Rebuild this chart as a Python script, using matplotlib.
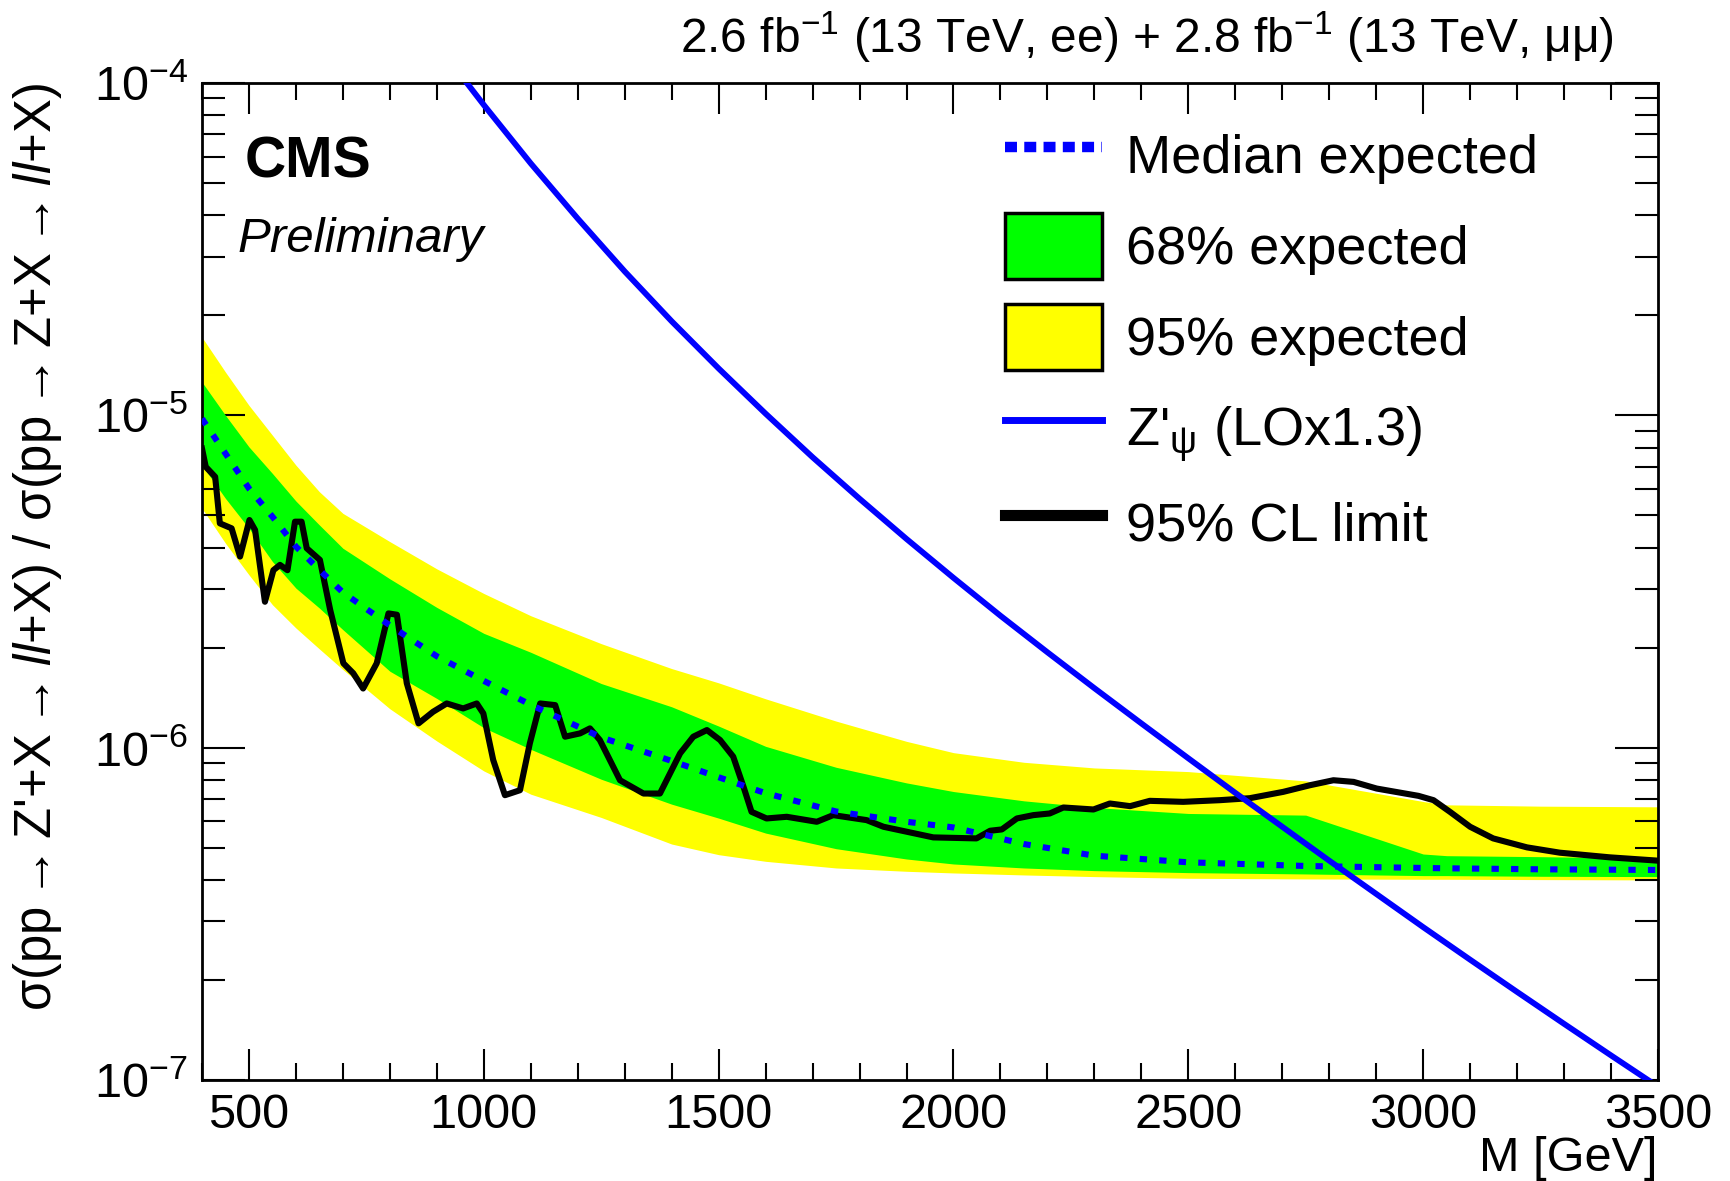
import numpy as np
import matplotlib
matplotlib.use("Agg")
import matplotlib.pyplot as plt
from matplotlib.lines import Line2D
from matplotlib.patches import Patch
from matplotlib.ticker import MultipleLocator, LogLocator, NullFormatter, FixedLocator

plt.rcParams['font.family'] = ['Liberation Sans', 'DejaVu Sans']
plt.rcParams['mathtext.fontset'] = 'custom'
plt.rcParams['mathtext.rm'] = 'Liberation Sans'
plt.rcParams['mathtext.it'] = 'Liberation Sans:italic'
plt.rcParams['mathtext.bf'] = 'Liberation Sans:bold'
plt.rcParams['mathtext.default'] = 'regular'

# ---------------- data (log10 of sigma ratio) ----------------
band_mass = [400, 450, 500, 550, 600, 650, 700, 800, 900, 1000, 1100, 1250, 1400,
             1500, 1600, 1750, 1900, 2000, 2150, 2300, 2500, 2750, 3000, 3050, 3250, 3500]

exp95_hi_log10 = [-4.765, -4.87, -4.97, -5.06, -5.15, -5.23, -5.295, -5.38, -5.462, -5.536,
                  -5.603, -5.687, -5.762, -5.805, -5.853, -5.92, -5.981, -6.015, -6.044,
                  -6.061, -6.072, -6.10, -6.162, -6.172, -6.176, -6.178]
exp68_hi_log10 = [-4.90, -5.00, -5.095, -5.175, -5.258, -5.33, -5.40, -5.492, -5.578, -5.656,
                  -5.713, -5.807, -5.877, -5.935, -5.996, -6.059, -6.106, -6.132, -6.16,
                  -6.18, -6.198, -6.203, -6.32, -6.325, -6.328, -6.333]
median_log10 = [-5.01, -5.115, -5.22, -5.305, -5.395, -5.465, -5.533, -5.632, -5.725, -5.799,
                -5.871, -5.969, -6.04, -6.089, -6.137, -6.192, -6.223, -6.24, -6.29,
                -6.325, -6.345, -6.356, -6.362, -6.363, -6.366, -6.368]
exp68_lo_log10 = [-5.15, -5.25, -5.34, -5.44, -5.52, -5.58, -5.645, -5.77, -5.852, -5.94,
                  -6.005, -6.095, -6.17, -6.212, -6.257, -6.304, -6.335, -6.35, -6.362,
                  -6.37, -6.376, -6.38, -6.385, -6.385, -6.387, -6.388]
exp95_lo_log10 = [-5.28, -5.385, -5.48, -5.57, -5.64, -5.703, -5.765, -5.883, -5.98, -6.07,
                  -6.14, -6.21, -6.29, -6.322, -6.342, -6.362, -6.372, -6.377, -6.383,
                  -6.388, -6.393, -6.395, -6.396, -6.396, -6.397, -6.398]

obs_mass = [400, 408, 428, 438, 463, 481, 501, 513, 534, 552, 566, 582, 598, 612, 623, 651,
            673, 701, 722, 743, 772, 797, 815, 836, 861, 892, 921, 956, 985, 999, 1020,
            1045, 1077, 1098, 1120, 1152, 1173, 1205, 1226, 1247, 1290, 1340, 1375, 1418,
            1446, 1475, 1503, 1531, 1553, 1570, 1602, 1645, 1709, 1744, 1815, 1851, 1957,
            2049, 2078, 2103, 2135, 2170, 2205, 2234, 2298, 2333, 2376, 2418, 2489, 2567,
            2631, 2702, 2759, 2809, 2852, 2901, 2990, 3022, 3057, 3100, 3149, 3221, 3291,
            3397, 3500]
obs_log10 = [-5.10, -5.155, -5.185, -5.325, -5.34, -5.425, -5.315, -5.345, -5.561, -5.466,
             -5.45, -5.466, -5.32, -5.32, -5.40, -5.435, -5.586, -5.746, -5.776, -5.822,
             -5.746, -5.596, -5.60, -5.806, -5.927, -5.892, -5.867, -5.882, -5.867, -5.897,
             -6.037, -6.143, -6.128, -5.987, -5.867, -5.872, -5.967, -5.957, -5.942, -5.977,
             -6.098, -6.138, -6.138, -6.017, -5.967, -5.947, -5.977, -6.027, -6.118, -6.193,
             -6.213, -6.208, -6.223, -6.203, -6.218, -6.238, -6.27, -6.273, -6.25, -6.246,
             -6.213, -6.203, -6.198, -6.18, -6.186, -6.168, -6.176, -6.16, -6.163, -6.158,
             -6.152, -6.133, -6.113, -6.098, -6.103, -6.123, -6.145, -6.158, -6.193, -6.238,
             -6.273, -6.30, -6.316, -6.33, -6.34]

zprime_mass = [950, 964, 1000, 1100, 1200, 1300, 1400, 1500, 1600, 1700, 1800, 1900, 2000,
               2100, 2200, 2300, 2400, 2500, 2600, 2700, 2800, 2900, 3000, 3100, 3200,
               3300, 3400, 3500]
zprime_log10 = [-3.975, -4.0, -4.066, -4.242, -4.408, -4.567, -4.717, -4.859, -4.995,
                -5.126, -5.251, -5.372, -5.489, -5.603, -5.713, -5.821, -5.927, -6.032,
                -6.136, -6.238, -6.34, -6.44, -6.54, -6.638, -6.735, -6.831, -6.926, -7.02]

x_ticks = [500, 1000, 1500, 2000, 2500, 3000, 3500]

title_text = "2.6 fb$^{-1}$ (13 TeV, ee) + 2.8 fb$^{-1}$ (13 TeV, μμ)"
ylabel_text = ("σ(pp$\\rightarrow$Z'+X$\\rightarrow$$\\it{ll}$+X) / "
               "σ(pp$\\rightarrow$Z+X$\\rightarrow$$\\it{ll}$+X)")
xlabel_text = "M [GeV]"
legend_labels = ["Median expected", "68% expected", "95% expected",
                 "Z'$_{ψ}$ (LOx1.3)", "95% CL limit"]

# ---------------- plot ----------------
W, H = 1731, 1181
fig = plt.figure(figsize=(W / 100, H / 100), dpi=100)
ax = fig.add_axes([202 / W, 1 - 1080 / H, 1456 / W, 997 / H])

m = np.array(band_mass)
p = lambda a: 10.0 ** np.array(a)

ax.fill_between(m, p(exp95_lo_log10), p(exp95_hi_log10), color='#ffff00', lw=0, zorder=1)
ax.fill_between(m, p(exp68_lo_log10), p(exp68_hi_log10), color='#00ff00', lw=0, zorder=2)
ax.plot(obs_mass, p(obs_log10), color='black', lw=4.4, zorder=3, solid_joinstyle='round')
ax.plot(m, p(median_log10), color='#0000ff', lw=4.4, ls=(0, (1.2, 2.0)),
        dash_capstyle='butt', zorder=4)
ax.plot(zprime_mass, p(zprime_log10), color='#0000ff', lw=4.2, zorder=5)

ax.set_yscale('log')
ax.set_xlim(400, 3500)
ax.set_ylim(1e-7, 1e-4)

ax.xaxis.set_major_locator(FixedLocator(x_ticks))
ax.xaxis.set_minor_locator(MultipleLocator(100))
ax.yaxis.set_major_locator(LogLocator(base=10, numticks=10))
ax.yaxis.set_minor_locator(LogLocator(base=10, subs=np.arange(2, 10), numticks=20))
ax.yaxis.set_minor_formatter(NullFormatter())

for s in ax.spines.values():
    s.set_linewidth(2.0)
ax.tick_params(which='both', direction='in', top=True, right=True, width=1.5,
               labelsize=35)
ax.xaxis.set_tick_params(which='major', length=22, pad=9)
ax.xaxis.set_tick_params(which='minor', length=12)
ax.yaxis.set_tick_params(which='major', length=31, pad=10)
ax.yaxis.set_tick_params(which='minor', length=16.5)

ax.set_xlabel(xlabel_text, fontsize=35, loc='right')
ax.xaxis.set_label_coords(1.0, -0.056)
ax.xaxis.label.set_va('top')
ax.set_ylabel(ylabel_text, fontsize=36.6, loc='top')
ax.yaxis.set_label_coords(-0.095, 1.0)

fig.text(1614 / W, 1 - 53 / H, title_text, fontsize=34.5, ha='right', va='baseline')
fig.text(245 / W, 1 - 177 / H, "CMS", fontsize=41, fontweight='bold', ha='left', va='baseline')
fig.text(237 / W, 1 - 252 / H, "Preliminary", fontsize=35.5, style='italic',
         ha='left', va='baseline')

handles = [
    Line2D([], [], color='#0000ff', lw=7.5, ls=(0, (1.15, 0.7)), dash_capstyle='butt'),
    Patch(facecolor='#00ff00', edgecolor='black', lw=2.5),
    Patch(facecolor='#ffff00', edgecolor='black', lw=2.5),
    Line2D([], [], color='#0000ff', lw=5.0),
    Line2D([], [], color='black', lw=8),
]
leg = ax.legend(handles, legend_labels, loc='upper left', bbox_to_anchor=(0.5515, 0.961),
                frameon=False, fontsize=39, borderpad=0, borderaxespad=0,
                handlelength=1.79, handleheight=1.5, handletextpad=0.44,
                labelspacing=0.46)

fig.savefig("out.png", dpi=100)
